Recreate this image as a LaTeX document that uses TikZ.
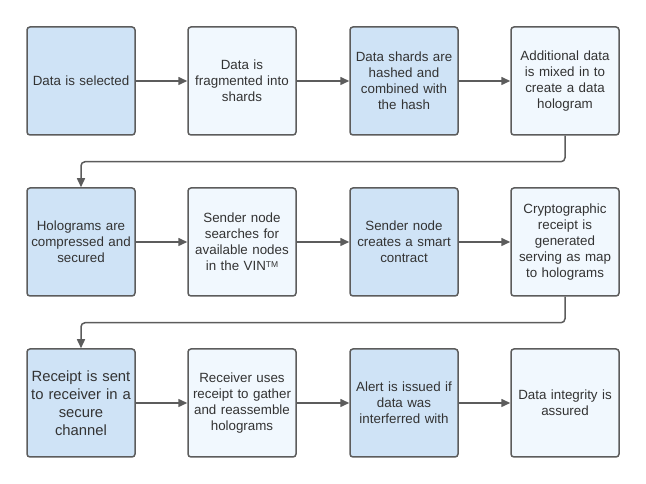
\documentclass[tikz,border=0pt]{standalone}
\usepackage{fontspec}
\setmainfont{Liberation Sans}
\usetikzlibrary{arrows.meta}
\definecolor{boxdark}{HTML}{CFE3F6}
\definecolor{boxlight}{HTML}{F1F8FE}
\definecolor{edge}{HTML}{5C5C5C}
\definecolor{ink}{HTML}{333333}
\begin{document}
\begin{tikzpicture}[x=1pt,y=1pt,line width=1.5pt,>={Triangle[length=9pt,width=8pt]},
    stepdark/.style={draw=edge,fill=boxdark,rounded corners=3pt,minimum width=108pt,minimum height=108pt,text width=100pt,inner sep=4pt,align=center,text=ink,font=\fontsize{13.35}{16}\selectfont},
    steplight/.style={stepdark,fill=boxlight},
    flow/.style={->,draw=edge,line width=1.5pt}]
  \useasboundingbox (0,0) rectangle (646,484);
  % first row
  \node[stepdark] (select) at (81,403) {Data is selected};
  \node[steplight] (fragment) at (242,403) {Data is\\fragmented into\\shards};
  \node[stepdark] (hashed) at (404,403) {Data shards are\\hashed and\\combined with\\the hash};
  \node[steplight] (mixed) at (565,403) {Additional data\\is mixed in to\\create a data\\hologram};
  % second row
  \node[stepdark] (compress) at (81,242) {Holograms are\\compressed and\\secured};
  \node[steplight] (search) at (242,242) {Sender node\\searches for\\available nodes\\in the VIN\raisebox{0.45ex}{\fontsize{8.5}{8.5}\selectfont TM}};
  \node[stepdark] (contract) at (404,242) {Sender node\\creates a smart\\contract};
  \node[steplight] (receipt) at (565,242) {Cryptographic\\receipt is\\generated\\serving as map\\to holograms};
  % third row
  \node[stepdark,font=\fontsize{14.8}{18}\selectfont] (sent) at (81,81) {Receipt is sent\\to receiver in a\\secure\\channel};
  \node[steplight] (gather) at (242,81) {Receiver uses\\receipt to gather\\and reassemble\\holograms};
  \node[stepdark] (alert) at (404,81) {Alert is issued if\\data was\\interferred with};
  \node[steplight] (integrity) at (565,81) {Data integrity is\\assured};
  % connectors
  \draw[flow] (select) -- (fragment);
  \draw[flow] (fragment) -- (hashed);
  \draw[flow] (hashed) -- (mixed);
  \draw[flow,rounded corners=4pt] (mixed.south) -- ++(0,-26) -| (compress.north);
  \draw[flow] (compress) -- (search);
  \draw[flow] (search) -- (contract);
  \draw[flow] (contract) -- (receipt);
  \draw[flow,rounded corners=4pt] (receipt.south) -- ++(0,-26) -| (sent.north);
  \draw[flow] (sent) -- (gather);
  \draw[flow] (gather) -- (alert);
  \draw[flow] (alert) -- (integrity);
\end{tikzpicture}
\end{document}
